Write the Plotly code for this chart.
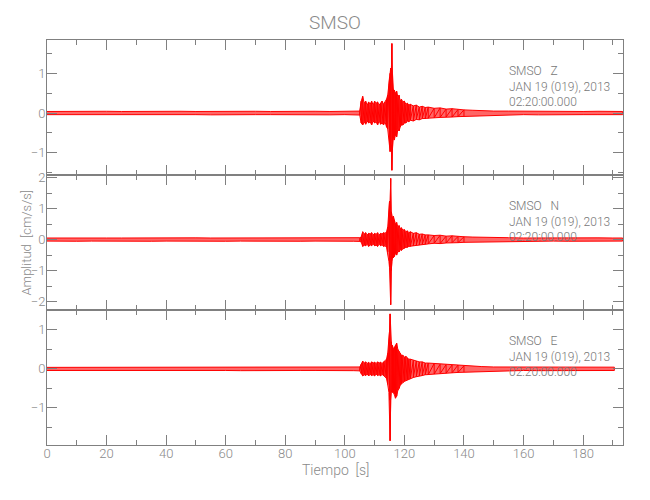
import plotly.graph_objects as go

# Shared time axis (s) at which the trace envelopes were read
T = [0, 5, 10, 15, 20, 25, 30, 35, 40, 45, 50, 55, 60, 65, 70, 75, 80, 85, 90, 95, 100,
     103, 105,
     105.5, 106, 106.5, 107, 107.5, 108, 108.5, 109, 109.5, 110, 110.5, 111, 111.5, 112, 112.5, 113, 113.5, 114,
     114.4, 114.8, 115.0, 115.2, 115.4, 115.6, 115.8, 116.0,
     116.3, 116.6, 117.0, 117.4, 117.8, 118.2, 118.6, 119.0,
     119.5, 120, 120.5, 121, 121.5, 122,
     123, 124, 125, 126, 127, 128,
     130, 132, 134, 136, 138, 140,
     143, 146, 150, 155, 160, 165, 170, 175, 180, 185, 190, 193.3]

# Component Z: upper / lower envelope (cm/s/s)
z_up = [0.04, 0.045, 0.04, 0.04, 0.045, 0.04, 0.045, 0.04, 0.04, 0.045, 0.04, 0.045, 0.04, 0.04, 0.045, 0.04, 0.045, 0.04, 0.045, 0.04, 0.045,
        0.045, 0.05,
        0.3, 0.42, 0.25, 0.3, 0.2, 0.28, 0.22, 0.3, 0.2, 0.3, 0.25, 0.28, 0.2, 0.25, 0.3, 0.22, 0.28, 0.35,
        0.45, 0.7, 0.9, 1.0, 1.13, 0.9, 1.75, 1.0,
        0.6, 0.58, 0.5, 0.55, 0.4, 0.45, 0.3, 0.35,
        0.28, 0.3, 0.22, 0.25, 0.2, 0.22,
        0.18, 0.2, 0.15, 0.17, 0.14, 0.15,
        0.12, 0.13, 0.1, 0.11, 0.09, 0.08,
        0.07, 0.06, 0.05, 0.05, 0.045, 0.05, 0.04, 0.045, 0.04, 0.045, 0.04, 0.04]
z_lo = [-0.04, -0.045, -0.04, -0.045, -0.04, -0.04, -0.045, -0.04, -0.045, -0.04, -0.04, -0.045, -0.04, -0.045, -0.04, -0.04, -0.045, -0.04, -0.04, -0.045, -0.04,
        -0.045, -0.05,
        -0.25, -0.3, -0.22, -0.28, -0.2, -0.25, -0.22, -0.3, -0.2, -0.25, -0.22, -0.3, -0.2, -0.28, -0.25, -0.3, -0.22, -0.35,
        -0.4, -0.6, -0.8, -0.97, -0.9, -0.8, -1.44, -0.9,
        -0.6, -0.68, -0.55, -0.6, -0.4, -0.45, -0.35, -0.3,
        -0.3, -0.25, -0.25, -0.2, -0.22, -0.18,
        -0.2, -0.16, -0.17, -0.14, -0.15, -0.13,
        -0.12, -0.11, -0.1, -0.1, -0.09, -0.08,
        -0.07, -0.06, -0.05, -0.05, -0.04, -0.045, -0.04, -0.045, -0.04, -0.04, -0.045, -0.04]

# Component N
n_up = [0.05, 0.055, 0.05, 0.055, 0.05, 0.05, 0.055, 0.05, 0.055, 0.05, 0.055, 0.05, 0.05, 0.055, 0.05, 0.055, 0.05, 0.05, 0.055, 0.05, 0.055,
        0.055, 0.06,
        0.08, 0.25, 0.18, 0.22, 0.15, 0.2, 0.18, 0.22, 0.15, 0.2, 0.17, 0.22, 0.15, 0.2, 0.18, 0.22, 0.2, 0.25,
        0.4, 0.8, 1.23, 1.0, 1.97, 0.9, 0.75, 0.7,
        0.75, 0.6, 0.5, 0.55, 0.4, 0.45, 0.35, 0.38,
        0.3, 0.32, 0.25, 0.28, 0.22, 0.25,
        0.2, 0.22, 0.17, 0.18, 0.15, 0.15,
        0.13, 0.14, 0.11, 0.12, 0.1, 0.09,
        0.08, 0.07, 0.06, 0.06, 0.05, 0.055, 0.05, 0.055, 0.05, 0.055, 0.05, 0.05]
n_lo = [-0.05, -0.05, -0.055, -0.05, -0.055, -0.05, -0.05, -0.055, -0.05, -0.055, -0.05, -0.05, -0.055, -0.05, -0.055, -0.05, -0.05, -0.055, -0.05, -0.055, -0.05,
        -0.055, -0.06,
        -0.08, -0.22, -0.18, -0.2, -0.15, -0.22, -0.17, -0.2, -0.15, -0.2, -0.18, -0.22, -0.15, -0.2, -0.17, -0.22, -0.2, -0.25,
        -0.4, -0.7, -0.9, -1.07, -2.1, -1.0, -0.7, -0.6,
        -0.59, -0.55, -0.45, -0.5, -0.38, -0.4, -0.32, -0.35,
        -0.3, -0.28, -0.25, -0.25, -0.22, -0.22,
        -0.2, -0.18, -0.17, -0.16, -0.15, -0.14,
        -0.12, -0.13, -0.11, -0.1, -0.1, -0.09,
        -0.08, -0.07, -0.06, -0.06, -0.05, -0.055, -0.05, -0.055, -0.05, -0.05, -0.055, -0.05]

# Component E (record ends at ~190.5 s)
e_time_end = 190.5
e_up = [0.04, 0.04, 0.045, 0.04, 0.04, 0.045, 0.04, 0.04, 0.045, 0.04, 0.04, 0.045, 0.04, 0.04, 0.045, 0.04, 0.04, 0.045, 0.04, 0.04, 0.045,
        0.045, 0.05,
        0.12, 0.2, 0.15, 0.18, 0.14, 0.17, 0.13, 0.18, 0.15, 0.17, 0.14, 0.18, 0.15, 0.17, 0.14, 0.18, 0.2, 0.25,
        0.4, 0.7, 0.96, 1.41, 0.9, 0.7, 0.55, 0.6,
        0.5, 0.55, 0.6, 0.66, 0.5, 0.45, 0.4, 0.35,
        0.35, 0.3, 0.32, 0.28, 0.25, 0.25,
        0.22, 0.2, 0.18, 0.18, 0.15, 0.15,
        0.14, 0.12, 0.11, 0.1, 0.1, 0.08,
        0.07, 0.06, 0.05, 0.05, 0.04, 0.045, 0.04, 0.045, 0.04, 0.04, 0.045]
e_lo = [-0.04, -0.045, -0.04, -0.04, -0.045, -0.04, -0.04, -0.045, -0.04, -0.04, -0.045, -0.04, -0.04, -0.045, -0.04, -0.04, -0.045, -0.04, -0.04, -0.045, -0.04,
        -0.045, -0.05,
        -0.12, -0.18, -0.15, -0.17, -0.13, -0.18, -0.14, -0.17, -0.15, -0.18, -0.13, -0.17, -0.15, -0.18, -0.14, -0.17, -0.2, -0.25,
        -0.4, -0.6, -0.8, -1.84, -0.8, -0.6, -0.55, -0.6,
        -0.6, -0.65, -0.75, -0.7, -0.55, -0.5, -0.42, -0.38,
        -0.35, -0.32, -0.3, -0.28, -0.26, -0.25,
        -0.22, -0.2, -0.18, -0.17, -0.15, -0.15,
        -0.13, -0.12, -0.11, -0.1, -0.09, -0.08,
        -0.07, -0.06, -0.05, -0.05, -0.04, -0.045, -0.04, -0.045, -0.04, -0.045, -0.04]

components = ["Z", "N", "E"]
station = "SMSO"
date_line = "JAN 19 (019), 2013"
time_line = "02:20:00.000"
y_ranges = [[-1.56, 1.84], [-2.27, 2.08], [-1.95, 1.51]]
y_ticks = [[-1, 0, 1], [-2, -1, 0, 1, 2], [-1, 0, 1]]
x_range = [0, 193.4]
x_ticks = [0, 20, 40, 60, 80, 100, 120, 140, 160, 180]
event_window = (105, 141)   # part of the record drawn with a hatched trace

FONT = "Roboto, sans-serif"
GRAY = "#8a8a8a"
AX = "#808080"

series = [
    (T, z_up, z_lo),
    (T, n_up, n_lo),
    (T[:-2] + [e_time_end], e_up, e_lo),
]

# The page body has an 8 px default margin; size the figure so the plot
# area lands where it is in the reference window.
W, H = 642, 492
fig = go.Figure()
domains = [[2/3, 1.0], [1/3, 2/3], [0.0, 1/3]]
for i, (tt, up, lo) in enumerate(series):
    xa = "x" if i == 0 else f"x{i+1}"
    ya = "y" if i == 0 else f"y{i+1}"
    xs = list(tt) + list(tt)[::-1]
    ys = list(up) + list(lo)[::-1]
    fig.add_trace(go.Scatter(x=xs, y=ys, mode="lines", fill="toself",
                             fillcolor="rgba(255,0,0,0.6)",
                             line=dict(color="#ff0000", width=1),
                             xaxis=xa, yaxis=ya, showlegend=False, hoverinfo="skip"))
    # zig-zag trace through the read extremes inside the event window
    zx, zy = [], []
    for t, u, l in zip(tt, up, lo):
        if event_window[0] <= t <= event_window[1]:
            zx += [t, t]
            zy += [u, l]
    fig.add_trace(go.Scatter(x=zx, y=zy, mode="lines",
                             line=dict(color="#ff0000", width=1),
                             xaxis=xa, yaxis=ya, showlegend=False, hoverinfo="skip"))

layout = dict(
    width=W, height=H,
    margin=dict(l=39, r=27, t=32, b=55, autoexpand=False),
    paper_bgcolor="white", plot_bgcolor="white",
    showlegend=False,
    font=dict(family=FONT, color=GRAY, size=13, weight=300),
)
for i in range(3):
    xk = "xaxis" if i == 0 else f"xaxis{i+1}"
    yk = "yaxis" if i == 0 else f"yaxis{i+1}"
    ya = "y" if i == 0 else f"y{i+1}"
    xa = "x" if i == 0 else f"x{i+1}"
    layout[xk] = dict(domain=[0, 1], anchor=ya, range=x_range, automargin=False,
                      tickvals=x_ticks, showticklabels=(i == 2), ticklabelstandoff=-4,
                      ticks="inside", ticklen=10, tickcolor=AX, tickwidth=1,
                      minor=dict(dtick=10, tick0=0, ticks="inside", ticklen=5, tickcolor=AX),
                      showline=True, linecolor=AX, linewidth=1, mirror="allticks",
                      showgrid=False, zeroline=False,
                      tickfont=dict(family=FONT, color=GRAY, size=13, weight=300))
    if i != 0:
        layout[xk]["matches"] = "x"
    layout[yk] = dict(domain=domains[i], anchor=xa, range=y_ranges[i], automargin=False,
                      tickvals=y_ticks[i], ticklabelstandoff=-2,
                      ticks="inside", ticklen=10, tickcolor=AX, tickwidth=1,
                      minor=dict(dtick=0.5, tick0=0, ticks="inside", ticklen=5, tickcolor=AX),
                      showline=True, linecolor=AX, linewidth=1, mirror="allticks",
                      showgrid=False, zeroline=False,
                      tickfont=dict(family=FONT, color=GRAY, size=13, weight=300))

fig.update_layout(**layout)

fig.add_annotation(text=station, xref="paper", yref="paper", x=0.5, y=1.0,
                   xanchor="center", yanchor="middle", yshift=18,
                   showarrow=False, font=dict(family=FONT, color=GRAY, size=19, weight=300))
fig.add_annotation(text="Amplitud  [cm/s/s]", xref="paper", yref="paper", x=0, y=0.5,
                   xanchor="center", yanchor="middle", xshift=-21, textangle=-90,
                   showarrow=False, font=dict(family=FONT, color=GRAY, size=13, weight=300))
fig.add_annotation(text="Tiempo  [s]", xref="paper", yref="paper", x=0.5, y=0,
                   xanchor="center", yanchor="middle", yshift=-25, showarrow=False,
                   font=dict(family=FONT, color=GRAY, size=14, weight=300))
for i, comp in enumerate(components):
    txt = f"{station}   {comp}<br>{date_line}<br>{time_line}"
    fig.add_annotation(text=txt, xref="paper", yref="paper", x=0.798, y=domains[i][1],
                       xanchor="left", yanchor="top", yshift=-22, align="left",
                       showarrow=False,
                       font=dict(family=FONT, color="#777777", size=12, weight=300))

fig.write_html("out.html")
